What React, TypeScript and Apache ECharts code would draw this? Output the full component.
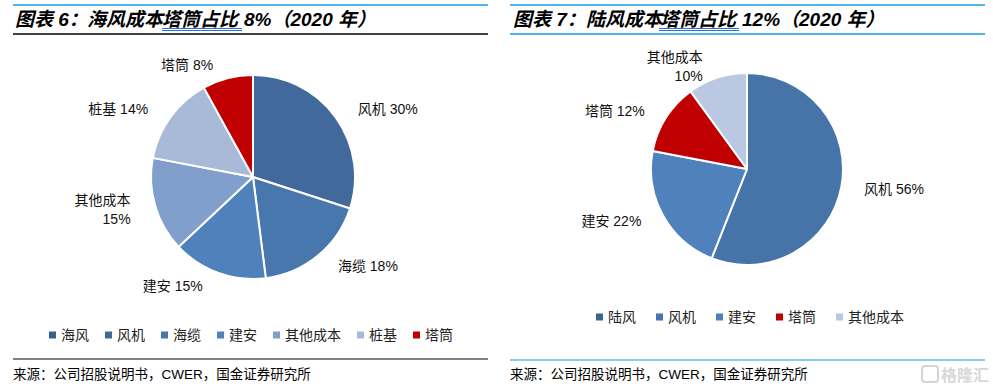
import React, { useEffect, useRef } from "react";
import * as echarts from "echarts";

const leftNames = ["海风", "风机", "海缆", "建安", "其他成本", "桩基", "塔筒"];
const leftValues = [0, 30, 18, 15, 15, 14, 8];
const leftColors = ["#3A5F8E", "#41699B", "#4877AE", "#4F81BD", "#809FCC", "#A9BAD8", "#C00000"];
const leftLabels = ["", "风机 30%", "海缆 18%", "建安 15%", "其他成本\n15%", "桩基 14%", "塔筒 8%"];

const rightNames = ["陆风", "风机", "建安", "塔筒", "其他成本"];
const rightValues = [0, 56, 22, 12, 10];
const rightColors = ["#3C6291", "#4674A8", "#4F81BD", "#C00000", "#BAC8E1"];
const rightLabels = ["", "风机 56%", "建安 22%", "塔筒 12%", "其他成本\n10%"];

const leftTitleParts = ["图表 6：", "海风成本", "塔筒占比", "8%（2020 年）"];
const rightTitleParts = ["图表 7：", "陆风成本", "塔筒占比", "12%（2020 年）"];
const sourceText = "来源：公司招股说明书，CWER，国金证券研究所";

const FONT = "'Liberation Sans', 'Noto Sans CJK SC', sans-serif";

function buildData(names: string[], values: number[], colors: string[], labels: string[]) {
  return names.map((n, i) => ({
    name: n,
    value: values[i],
    itemStyle: { color: colors[i], borderWidth: values[i] === 0 ? 0 : 2, borderColor: "#fff" },
    label: { show: values[i] !== 0, formatter: labels[i] },
    labelLine: { show: false },
  }));
}

function legendData(names: string[], colors: string[]) {
  return names.map((n, i) => ({ name: n, itemStyle: { color: colors[i], borderWidth: 0 } }));
}

function titleText(x: number, text: string) {
  return {
    type: "text",
    x,
    y: 19,
    style: {
      text,
      fontSize: 19,
      fontWeight: "bold",
      fontStyle: "italic",
      fontFamily: FONT,
      fill: "#000",
      verticalAlign: "middle",
    },
  };
}

export default function App() {
  const ref = useRef<HTMLDivElement>(null);
  useEffect(() => {
    if (!ref.current) return;
    const chart = echarts.init(ref.current, undefined, { renderer: "svg" });
    const blue = "#12A0E0";
    const labelCommon = {
      position: "outside",
      fontSize: 14,
      lineHeight: 19,
      color: "#111",
      fontFamily: FONT,
      align: "center",
    };
    chart.setOption({
      animation: false,
      backgroundColor: "#fff",
      legend: [
        {
          data: legendData(leftNames, leftColors),
          left: 44,
          top: 323,
          itemWidth: 7,
          itemHeight: 7,
          itemGap: 16,
          icon: "rect",
          textStyle: { fontSize: 14, color: "#222", fontFamily: FONT },
          selectedMode: false,
        },
        {
          data: legendData(rightNames, rightColors),
          left: 591,
          top: 305,
          itemWidth: 7,
          itemHeight: 7,
          itemGap: 20,
          icon: "rect",
          textStyle: { fontSize: 14, color: "#222", fontFamily: FONT },
          selectedMode: false,
        },
      ],
      series: [
        {
          type: "pie",
          center: [253, 177],
          radius: [0, 102],
          startAngle: 90,
          clockwise: true,
          label: labelCommon,
          labelLine: { show: false, length: 14, length2: 6 },
          data: buildData(leftNames, leftValues, leftColors, leftLabels),
        },
        {
          type: "pie",
          center: [747, 169],
          radius: [0, 96],
          startAngle: 90,
          clockwise: true,
          label: labelCommon,
          labelLine: { show: false, length: 12, length2: 6 },
          data: buildData(rightNames, rightValues, rightColors, rightLabels),
        },
      ],
      graphic: [
        { type: "line", shape: { x1: 13, y1: 5, x2: 488, y2: 5 }, style: { stroke: blue, lineWidth: 1.5 } },
        { type: "line", shape: { x1: 13, y1: 34, x2: 488, y2: 34 }, style: { stroke: "#000", lineWidth: 1.5 } },
        { type: "line", shape: { x1: 13, y1: 359, x2: 488, y2: 359 }, style: { stroke: "#000", lineWidth: 1.2 } },
        { type: "line", shape: { x1: 510, y1: 5, x2: 985, y2: 5 }, style: { stroke: blue, lineWidth: 1.5 } },
        { type: "line", shape: { x1: 510, y1: 34, x2: 985, y2: 34 }, style: { stroke: blue, lineWidth: 1.5 } },
        { type: "line", shape: { x1: 510, y1: 360, x2: 985, y2: 360 }, style: { stroke: blue, lineWidth: 1.2 } },
        titleText(15, leftTitleParts[0]),
        titleText(87, leftTitleParts[1]),
        titleText(162, leftTitleParts[2]),
        titleText(244, leftTitleParts[3]),
        titleText(513, rightTitleParts[0]),
        titleText(586, rightTitleParts[1]),
        titleText(660, rightTitleParts[2]),
        titleText(742, rightTitleParts[3]),
        { type: "line", shape: { x1: 162, y1: 28.5, x2: 242, y2: 28.5 }, style: { stroke: "#2F6FD0", lineWidth: 1 } },
        { type: "line", shape: { x1: 162, y1: 30.5, x2: 242, y2: 30.5 }, style: { stroke: "#2F6FD0", lineWidth: 1 } },
        { type: "line", shape: { x1: 659, y1: 28.5, x2: 739, y2: 28.5 }, style: { stroke: "#2F6FD0", lineWidth: 1 } },
        { type: "line", shape: { x1: 659, y1: 30.5, x2: 739, y2: 30.5 }, style: { stroke: "#2F6FD0", lineWidth: 1 } },
        {
          type: "text",
          x: 13,
          y: 374,
          style: { text: sourceText, fontSize: 13.5, fontFamily: FONT, fill: "#000", verticalAlign: "middle" },
        },
        {
          type: "text",
          x: 510,
          y: 374,
          style: { text: sourceText, fontSize: 13.5, fontFamily: FONT, fill: "#000", verticalAlign: "middle" },
        },
        {
          type: "rect",
          shape: { x: 922, y: 366, width: 16, height: 16, r: 3 },
          style: { fill: "none", stroke: "#d4d4d4", lineWidth: 2 },
        },
        {
          type: "text",
          x: 941,
          y: 375,
          style: { text: "格隆汇", fontSize: 16, fontWeight: "bold", fontFamily: FONT, fill: "#d8d8d8", verticalAlign: "middle" },
        },
      ],
    });
    return () => chart.dispose();
  }, []);
  return (
    <div
      ref={ref}
      style={{ position: "absolute", left: 0, top: 0, width: 993, height: 391 }}
    />
  );
}
